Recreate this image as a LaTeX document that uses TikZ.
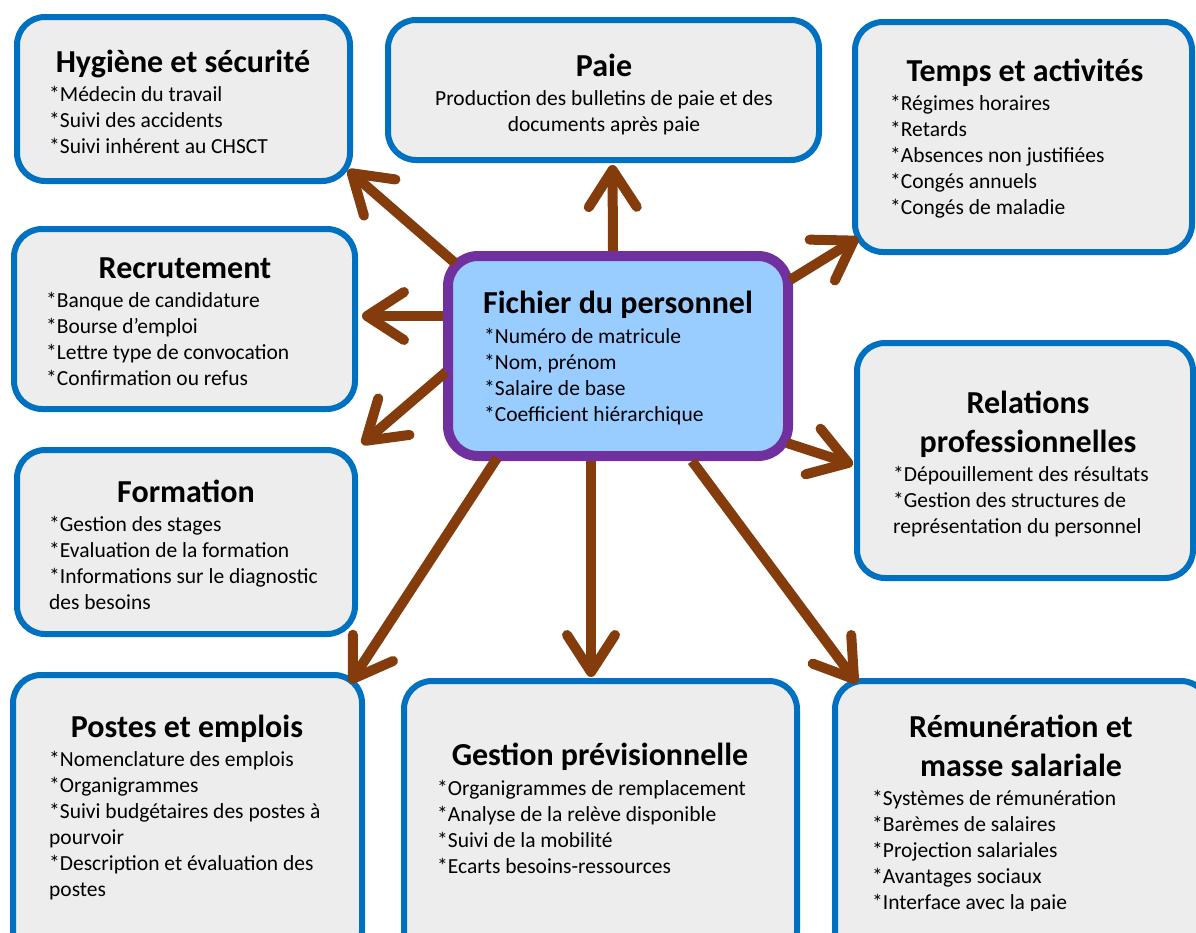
\documentclass[tikz,border=0pt]{standalone}
\usepackage{fontspec}
\setmainfont{Carlito}
\usetikzlibrary{arrows.meta}
\definecolor{bblue}{HTML}{0070C0}
\definecolor{bfill}{HTML}{EDEDED}
\definecolor{ppurple}{HTML}{7030A0}
\definecolor{pfill}{HTML}{99CCFF}
\definecolor{arrbrown}{HTML}{843C0C}
\newcommand{\mkbox}[7]{% name, style, linewidth, x1,y1,x2,y2
  \node[#2, minimum width={#6-#4-#3}, minimum height={#7-#5-#3}] (#1) at ({(#4+#6)/2},{(#5+#7)/2}) {};}
\tikzset{
  panel/.style={draw=bblue, fill=bfill, line width=6pt, rounded corners=28pt, inner sep=0pt},
  hubbox/.style={draw=ppurple, fill=pfill, line width=10pt, rounded corners=30pt, inner sep=0pt},
  ttl/.style={font=\fontsize{32}{39.5}\selectfont\bfseries, inner sep=0pt, anchor=base, align=center},
  bdy/.style={font=\fontsize{21.5}{26}\selectfont, inner sep=0pt, anchor=base west, align=left},
  bdyc/.style={font=\fontsize{21.5}{26}\selectfont, inner sep=0pt, anchor=base, align=center},
  arr/.style={draw=arrbrown, line width=10pt, -{Straight Barb[round,length=37pt,width=48pt]}}
}
\begin{document}
\begin{tikzpicture}[x=1pt,y=-1pt]
\useasboundingbox (0,0) rectangle (1196,932);
\clip (0,0) rectangle (1196,932);
% boxes
\mkbox{hyg}{panel}{6}{14}{14}{353}{184}
\mkbox{paie}{panel}{6}{385}{17}{822}{163}
\mkbox{temps}{panel}{6}{852}{19}{1195}{255}
\mkbox{recr}{panel}{6}{11}{226}{358}{412}
\mkbox{rel}{panel}{6}{854}{340}{1196}{581}
\mkbox{form}{panel}{6}{14}{447}{358}{637}
\mkbox{postes}{panel}{6}{10}{672}{365}{962}
\mkbox{gest}{panel}{6}{401}{678}{800}{962}
\mkbox{rem}{panel}{6}{832}{678}{1212}{962}
\mkbox{fp}{hubbox}{10}{443}{251}{793}{461}
% arrows
\draw[arr] ([shift={(12,12)}]fp.north west) -- ([shift={(-5,-14)}]hyg.south east);
\draw[arr] ([shift={(-5,0)}]fp.north) -- ([shift={(9,2)}]paie.south);
\draw[arr] ([shift={(-3,29)}]fp.north east) -- ([shift={(6,-17)}]temps.south west);
\draw[arr] ([shift={(0,65)}]fp.north west) -- ([shift={(4,-3)}]recr.east);
\draw[arr] ([shift={(3,121)}]fp.north west) -- ([shift={(4,-3)}]form.north east);
\draw[arr] ([shift={(-6,-18)}]fp.south east) -- ([shift={(-1,4)}]rel.west);
\draw[arr] ([shift={(54,-3)}]fp.south west) -- ([shift={(-15,11)}]postes.north east);
\draw[arr] ([shift={(-27,0)}]fp.south) -- ([shift={(-9.5,-1)}]gest.north);
\draw[arr] ([shift={(-101,0)}]fp.south east) -- ([shift={(25,5)}]rem.north west);
% texts (anchors at the baseline of the LAST line)
\node[ttl] (hygT) at (183,72) {Hygiène et sécurité};
\node[bdy] (hygB) at (49,153) {*Médecin du travail\\*Suivi des accidents\\*Suivi inhérent au CHSCT};
\node[ttl] (paieT) at (604,76) {Paie};
\node[bdyc] (paieB) at (604,131) {Production des bulletins de paie et des\\documents après paie};
\node[ttl] (tempsT) at (1025,81) {Temps et activités};
\node[bdy] (tempsB) at (890,214) {*Régimes horaires\\*Retards\\*Absences non justifiées\\*Congés annuels\\*Congés de maladie};
\node[ttl] (recrT) at (185,278) {Recrutement};
\node[bdy] (recrB) at (46,385) {*Banque de candidature\\*Bourse d’emploi\\*Lettre type de convocation\\*Confirmation ou refus};
\node[ttl] (fpT) at (618,313) {Fichier du personnel};
\node[bdy] (fpB) at (484,421) {*Numéro de matricule\\*Nom, prénom\\*Salaire de base\\*Coefficient hiérarchique};
\node[ttl] (relT) at (1028,452.5) {Relations\\professionnelles};
\node[bdy] (relB) at (893,533) {*Dépouillement des résultats\\*Gestion des structures de\\représentation du personnel};
\node[ttl] (formT) at (186,502) {Formation};
\node[bdy] (formB) at (49,609) {*Gestion des stages\\*Evaluation de la formation\\*Informations sur le diagnostic\\des besoins};
\node[ttl] (postesT) at (187,737) {Postes et emplois};
\node[bdy] (postesB) at (49,896) {*Nomenclature des emplois\\*Organigrammes\\*Suivi budgétaires des postes à\\pourvoir\\*Description et évaluation des\\postes};
\node[ttl] (gestT) at (600,765) {Gestion prévisionnelle};
\node[bdy] (gestB) at (437,873) {*Organigrammes de remplacement\\*Analyse de la relève disponible\\*Suivi de la mobilité\\*Ecarts besoins-ressources};
\node[ttl] (remT) at (1021,776.5) {Rémunération et\\masse salariale};
\begin{scope}
\clip (830,780) rectangle (1196,910);
\node[bdy] (remB) at (872,909) {*Systèmes de rémunération\\*Barèmes de salaires\\*Projection salariales\\*Avantages sociaux\\*Interface avec la paie};
\end{scope}
\end{tikzpicture}
\end{document}
